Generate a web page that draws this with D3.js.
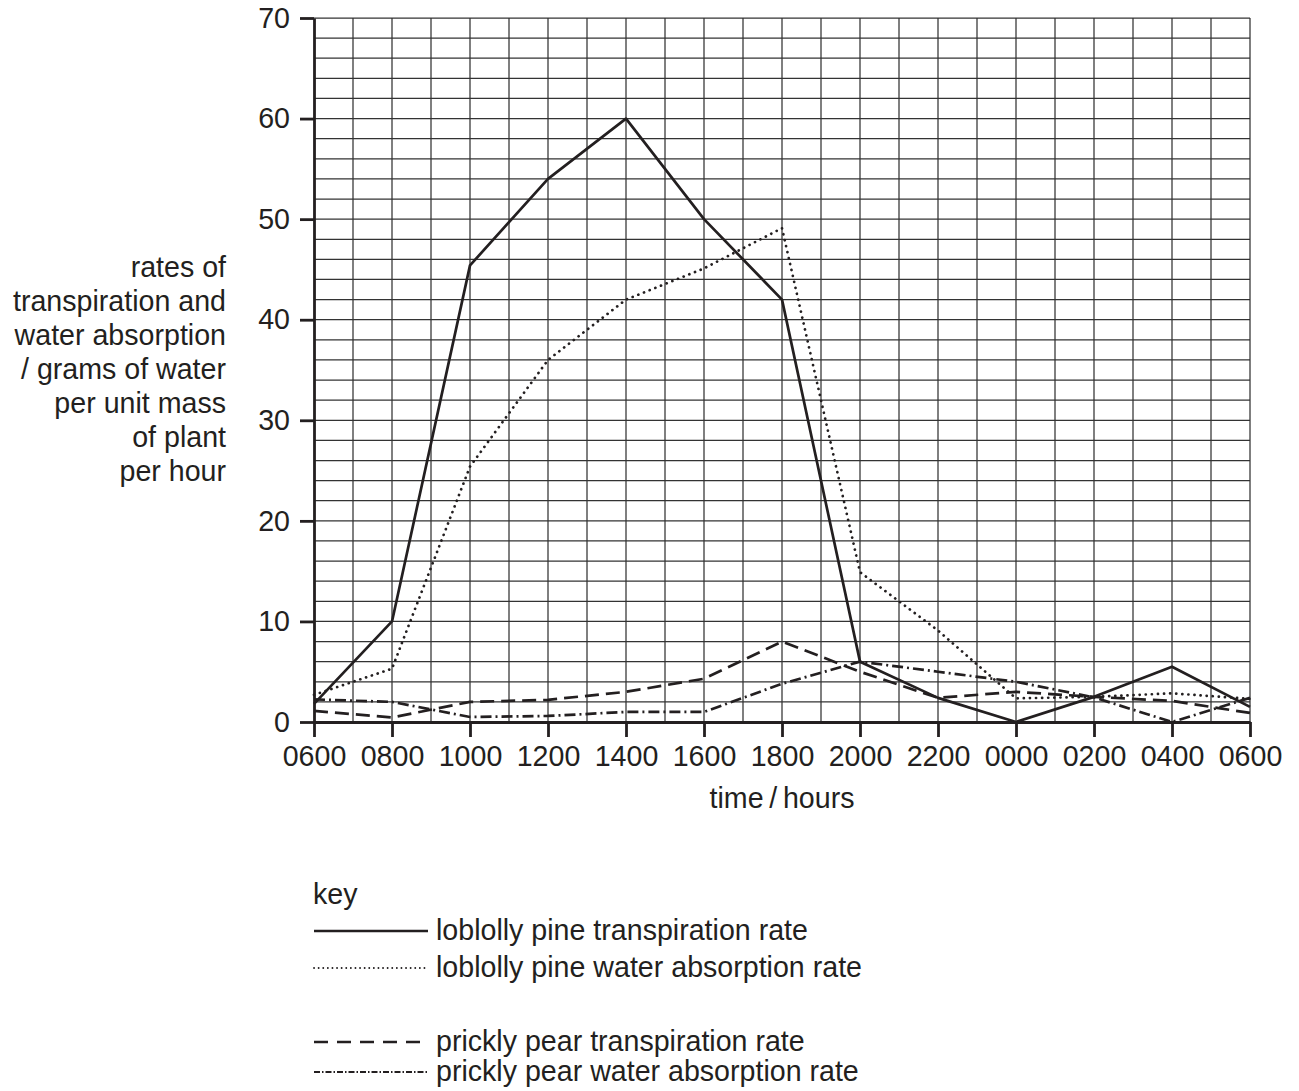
<!DOCTYPE html>
<meta charset="utf-8">
<style>
  body { margin: 0; background: #fff; }
  text { font-family: "Liberation Sans", Arial, sans-serif; fill: #231f20; }
  .grid line { stroke: #333; stroke-width: 1.25; }
  .axis path, .axis line { stroke: #231f20; stroke-width: 2.8; }
  .series { fill: none; stroke: #231f20; stroke-width: 2.7; }
</style>
<html>
<body>
<script src="https://cdnjs.cloudflare.com/ajax/libs/d3/7.8.5/d3.min.js"></script>
<script>
// time labels, one every two hours from 0600 to 0600 next day
var timeLabels = ["0600","0800","1000","1200","1400","1600","1800","2000","2200","0000","0200","0400","0600"];
var hours = [0, 2, 4, 6, 8, 10, 12, 14, 16, 18, 20, 22, 24];

// values
var pineTranspiration = [1.8, 10, 45.4, 54, 60, 50, 42, 6, 2.4, 0, 2.5, 5.5, 1.5];
var pineAbsorption    = [2.7, 5.3, 25.4, 36, 42, 45.1, 49.1, 14.9, 9.1, 2.35, 2.5, 2.85, 2.3];
var pearTranspiration = [1.1, 0.45, 2.0, 2.2, 3.0, 4.3, 8.0, 5.0, 2.4, 3.0, 2.5, 2.1, 0.9];
var pearAbsorption    = [2.25, 2.0, 0.5, 0.6, 1.0, 1.0, 3.8, 6.0, 5.0, 4.0, 2.45, 0, 2.4];

var yTicks = [0, 10, 20, 30, 40, 50, 60, 70];
var yTitle = ["rates of", "transpiration and", "water absorption", "/ grams of water",
              "per unit mass", "of plant", "per hour"];
var keyLabels = ["loblolly pine transpiration rate", "loblolly pine water absorption rate",
                 "prickly pear transpiration rate", "prickly pear water absorption rate"];

var width = 1299, height = 1091;
var fs = 28.6;

var svg = d3.select("body").append("svg")
    .attr("width", width)
    .attr("height", height);

var x = d3.scaleLinear().domain([0, 24]).range([314, 1250]);
var y = d3.scaleLinear().domain([0, 70]).range([722, 18]);

// graph paper grid
var grid = svg.append("g").attr("class", "grid");
grid.selectAll(".v")
    .data(d3.range(1, 25))
  .enter().append("line")
    .attr("x1", function(d) { return x(d); })
    .attr("x2", function(d) { return x(d); })
    .attr("y1", y(0))
    .attr("y2", y(70));
grid.selectAll(".h")
    .data(d3.range(2, 71, 2))
  .enter().append("line")
    .attr("x1", x(0))
    .attr("x2", x(24))
    .attr("y1", function(d) { return y(d); })
    .attr("y2", function(d) { return y(d); });

// axes
var yAxis = d3.axisLeft(y).tickValues(yTicks).tickSize(14).tickPadding(10).tickSizeOuter(0);
var xAxis = d3.axisBottom(x).tickValues(hours).tickSize(15).tickPadding(9).tickSizeOuter(0)
    .tickFormat(function(d, i) { return timeLabels[i]; });

svg.append("g")
    .attr("class", "axis")
    .attr("transform", "translate(" + x(0) + ",0)")
    .call(yAxis);
svg.append("g")
    .attr("class", "axis")
    .attr("transform", "translate(0," + y(0) + ")")
    .call(xAxis);

svg.selectAll(".axis text")
    .style("font-size", fs + "px")
    .attr("fill", "#231f20");

// lines
var styles = [
  { data: pineTranspiration, dash: null, cap: "butt", w: 2.7 },
  { data: pineAbsorption, dash: "0.1 6", cap: "round", w: 2.9 },
  { data: pearTranspiration, dash: "14 7", cap: "butt", w: 2.7 },
  { data: pearAbsorption, dash: "11 4 2 4", cap: "butt", w: 2.7 }
];

var line = d3.line()
    .x(function(d, i) { return x(hours[i]); })
    .y(function(d) { return y(d); });

svg.selectAll(".series")
    .data(styles)
  .enter().append("path")
    .attr("class", "series")
    .attr("d", function(d) { return line(d.data); })
    .attr("stroke-dasharray", function(d) { return d.dash; })
    .attr("stroke-linecap", function(d) { return d.cap; })
    .attr("stroke-width", function(d) { return d.w; })
    .attr("stroke-linejoin", "round");

// axis titles
svg.append("text")
    .attr("x", x(12))
    .attr("y", 808)
    .attr("text-anchor", "middle")
    .style("font-size", fs + "px")
    .text("time\u2009/\u2009hours");

svg.append("g").selectAll("text")
    .data(yTitle)
  .enter().append("text")
    .attr("x", 226)
    .attr("y", function(d, i) { return 277 + i * 34; })
    .attr("text-anchor", "end")
    .style("font-size", fs + "px")
    .text(function(d) { return d; });

// key
var key = svg.append("g");
key.append("text")
    .attr("x", 313)
    .attr("y", 904)
    .style("font-size", fs + "px")
    .text("key");

var keyY = [931, 968, 1042, 1072];
var keyDash = [null, "0.1 4.5", "14 9", "6 2 1.5 2"];
var keyWidth = [2.4, 1.8, 2.4, 2.2];
var keyCap = ["butt", "round", "butt", "butt"];

keyLabels.forEach(function(lbl, i) {
  key.append("line")
      .attr("x1", 314)
      .attr("x2", 428)
      .attr("y1", keyY[i])
      .attr("y2", keyY[i])
      .attr("stroke", "#231f20")
      .attr("stroke-width", keyWidth[i])
      .attr("stroke-linecap", keyCap[i])
      .attr("stroke-dasharray", keyDash[i]);
  key.append("text")
      .attr("x", 436)
      .attr("y", keyY[i] + 9)
      .style("font-size", fs + "px")
      .text(lbl);
});
</script>
</body>
</html>
